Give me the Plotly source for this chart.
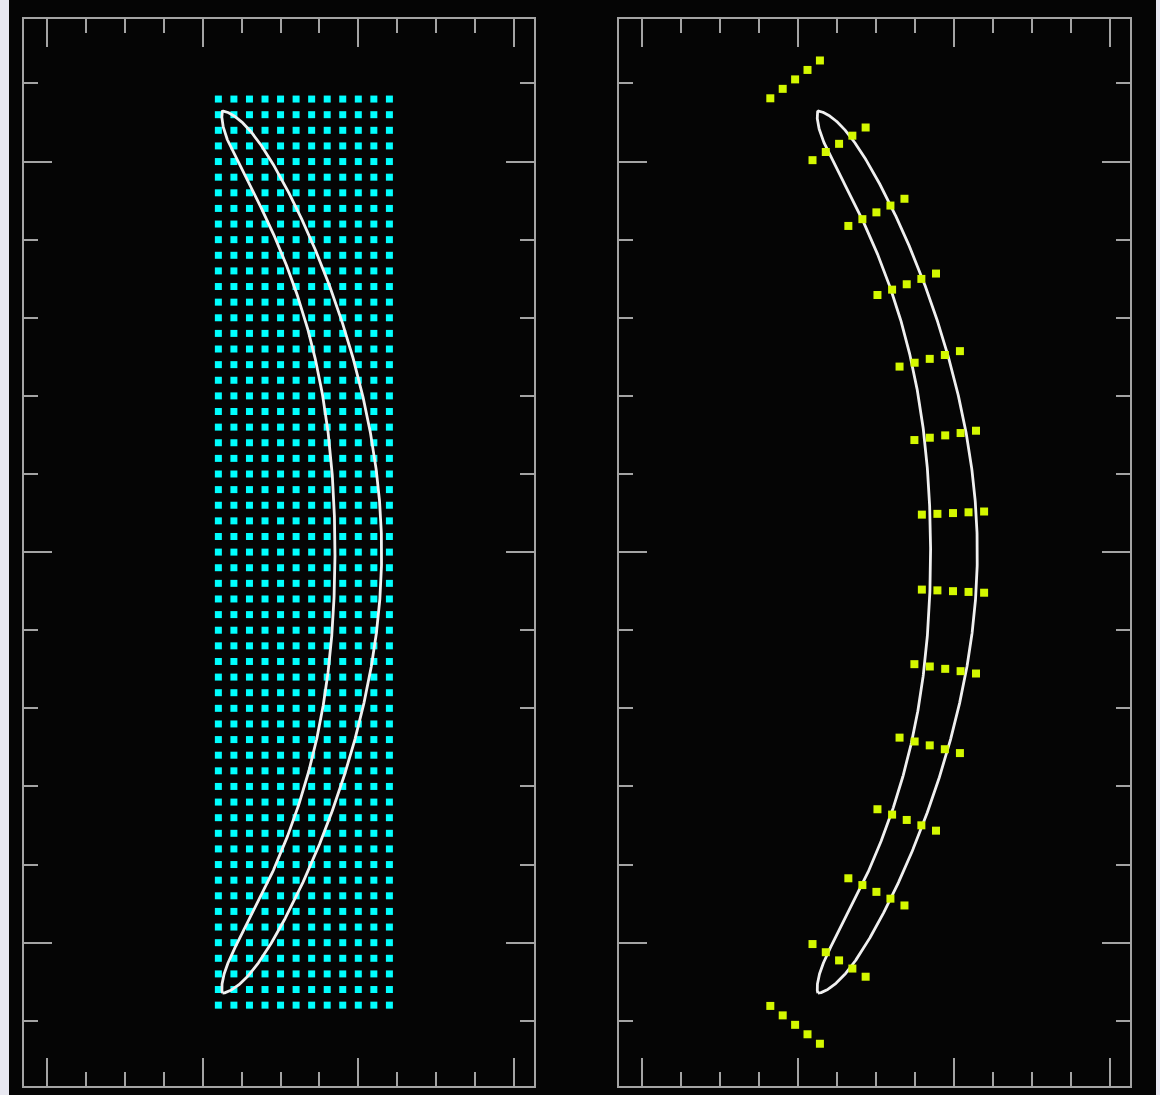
import numpy as np
import plotly.graph_objects as go

# ---- structured background grid (left panel) ----
grid_x = [-0.36, -0.32, -0.28, -0.24, -0.20, -0.16, -0.12, -0.08, -0.04, 0.00, 0.04, 0.08]
grid_y = np.round(np.arange(-1.16, 1.1601, 0.04), 2)  # 59 rows, spacing 0.04

# ---- mean camber circle shared by the body and the stations ----
camber_center, camber_radius = -2.0, 2.0

# ---- crescent body: thickness laid off normal to the camber circle ----
half_span = 1.20          # arc length from mid-chord to each tip
t_base = 0.04             # half-thickness over most of the span
t_bulge = 0.02            # extra half-thickness at mid-span
bulge_width = 0.5
tip_sharpness = 20
tip_power = 0.8

# ---- body-fitted stations on the camber circle (right panel) ----
station_s = [-1.3, -1.1, -0.9, -0.7, -0.5, -0.3, -0.1, 0.1, 0.3, 0.5, 0.7, 0.9, 1.1, 1.3]
normal_offsets = [-0.08, -0.04, 0.0, 0.04, 0.08]

# axis ranges and tick spacing
x_range = [-0.86, 0.452]
y_range = [-1.367, 1.365]
x_major, x_minor = 0.4, 0.1
y_major, y_minor = 1.0, 0.2


# ---------------- geometry ----------------
def on_camber(s, d):
    ang = np.asarray(s) / camber_radius
    r = camber_radius + np.asarray(d)
    return camber_center + r * np.cos(ang), r * np.sin(ang)


s_body = half_span * np.sin(np.linspace(-np.pi / 2, np.pi / 2, 800))
thick = (t_base + t_bulge * np.exp(-(s_body / bulge_width) ** 2)) * \
    np.clip(1 - np.abs(s_body / half_span) ** tip_sharpness, 0, None) ** tip_power
ix, iy = on_camber(s_body, -thick)
ox, oy = on_camber(s_body[::-1], thick[::-1])
body_x = np.concatenate([ix, ox, ix[:1]])
body_y = np.concatenate([iy, oy, iy[:1]])

gx, gy = np.meshgrid(grid_x, grid_y)

st_x, st_y = [], []
for s in station_s:
    px, py = on_camber([s] * len(normal_offsets), normal_offsets)
    st_x.extend(px)
    st_y.extend(py)

# ---------------- figure ----------------
W, H = 1160, 1095
frame_col = "#a4a4a4"
bg = "#050505"
body_line = dict(color="#f0f0f0", width=2.8)

fig = go.Figure()

fig.add_trace(go.Scatter(x=gx.ravel(), y=gy.ravel(), mode="markers",
                         marker=dict(symbol="square", size=7, color="#00ffff",
                                     line=dict(width=0)),
                         xaxis="x", yaxis="y", hoverinfo="skip"))
fig.add_trace(go.Scatter(x=body_x, y=body_y, mode="lines", line=body_line,
                         xaxis="x", yaxis="y", hoverinfo="skip"))
fig.add_trace(go.Scatter(x=body_x, y=body_y, mode="lines", line=body_line,
                         xaxis="x2", yaxis="y2", hoverinfo="skip"))
fig.add_trace(go.Scatter(x=st_x, y=st_y, mode="markers",
                         marker=dict(symbol="square", size=8, color="#d4f800",
                                     line=dict(width=0)),
                         xaxis="x2", yaxis="y2", hoverinfo="skip"))


def xaxis_style(domain, anchor):
    return dict(domain=domain, anchor=anchor, range=x_range,
                showline=True, linecolor=frame_col, linewidth=2, mirror="ticks",
                ticks="inside", tick0=-0.8, dtick=x_major, ticklen=28, tickwidth=2,
                tickcolor=frame_col, showticklabels=False, showgrid=False,
                zeroline=False, fixedrange=True,
                minor=dict(ticks="inside", dtick=x_minor, tick0=-0.8, ticklen=14,
                           tickwidth=2, tickcolor=frame_col, showgrid=False))


def yaxis_style(anchor):
    return dict(domain=[9 / H, 1076 / H], anchor=anchor, range=y_range,
                showline=True, linecolor=frame_col, linewidth=2, mirror="ticks",
                ticks="inside", tick0=0, dtick=y_major, ticklen=28, tickwidth=2,
                tickcolor=frame_col, showticklabels=False, showgrid=False,
                zeroline=False, fixedrange=True,
                minor=dict(ticks="inside", dtick=y_minor, tick0=0, ticklen=14,
                           tickwidth=2, tickcolor=frame_col, showgrid=False))


fig.update_layout(
    width=W, height=H,
    margin=dict(l=0, r=0, t=0, b=0),
    paper_bgcolor="#e8e8f1",
    plot_bgcolor=bg,
    showlegend=False,
    xaxis=xaxis_style([24 / W, 534 / W], "y"),
    yaxis=yaxis_style("x"),
    xaxis2=xaxis_style([619 / W, 1130 / W], "y2"),
    yaxis2=yaxis_style("x2"),
    shapes=[dict(type="rect", xref="paper", yref="paper",
                 x0=9 / W, x1=1156 / W, y0=0, y1=1,
                 fillcolor=bg, line=dict(width=0), layer="below")],
)

fig.write_html("out.html", config={"displayModeBar": False})
